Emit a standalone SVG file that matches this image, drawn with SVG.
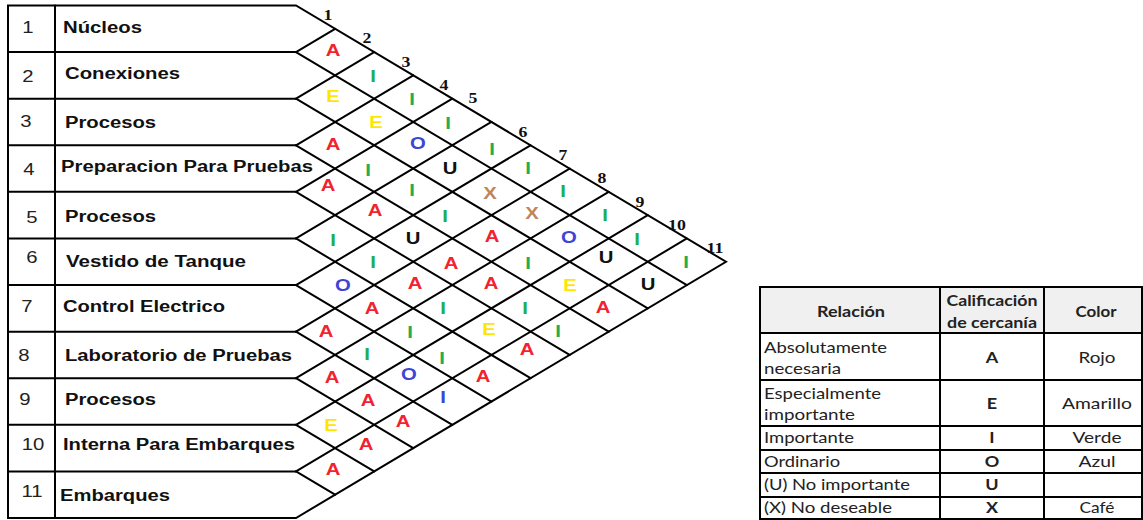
<svg xmlns="http://www.w3.org/2000/svg" width="1143" height="520" viewBox="0 0 1143 520">
<style>
.ln{stroke:#000;stroke-width:2;fill:none;stroke-linecap:round}
.lg{stroke:#000;stroke-width:2;fill:none}
.lab{font-family:"Liberation Sans",Arial,sans-serif;font-weight:bold;font-size:16px;fill:#111}
.num{font-family:"Liberation Sans",Arial,sans-serif;font-size:16px;fill:#222;text-anchor:middle}
.col{font-family:"Liberation Serif","Times New Roman",serif;font-weight:bold;font-size:14px;fill:#111;text-anchor:middle}
.r{font-family:"Liberation Sans",Arial,sans-serif;font-weight:bold;font-size:16px;text-anchor:middle}
.R{fill:#f2232e}.Y{fill:#ffe600}.G{fill:#22ad55}.B{fill:#3d45d6}.K{fill:#111}.Br{fill:#c0855a}
.lt{font-family:Lato,"Open Sans",sans-serif;font-size:15px;fill:#222}
.lb{font-family:Lato,"Open Sans",sans-serif;font-size:15px;fill:#222;font-weight:bold}
.c{text-anchor:middle}
</style>

<g id="connectors">
  <!-- table frame -->
  <path class="ln" d="M8 5.5H296L726 261.75L296 518H8Z"/>
  <path class="ln" d="M55 5.5V518"/>
  <path class="ln" d="M8 52.09H296M8 98.68H296M8 145.27H296M8 191.86H296M8 238.45H296M8 285.04H296M8 331.63H296M8 378.22H296M8 424.81H296M8 471.4H296"/>
  <!-- up-right diagonals -->
  <path class="ln" d="M296 52.09L335.09 28.8M296 98.68L374.18 52.09M296 145.27L413.27 75.39M296 191.86L452.36 98.68M296 238.45L491.45 121.98M296 285.04L530.54 145.27M296 331.63L569.63 168.57M296 378.22L608.72 191.86M296 424.81L647.81 215.16M296 471.4L686.9 238.45"/>
  <!-- down-right diagonals -->
  <path class="ln" d="M296 52.09L686.9 285.04M296 98.68L647.81 308.34M296 145.27L608.72 331.63M296 191.86L569.63 354.93M296 238.45L530.54 378.22M296 285.04L491.45 401.52M296 331.63L452.36 424.81M296 378.22L413.27 448.11M296 424.81L374.18 471.4M296 471.4L335.09 494.7"/>
</g>

<g id="rows">
  <g id="row-1"><text class="num" transform="translate(28 33) scale(1.27 1)">1</text><text class="lab" x="63" y="33" textLength="79" lengthAdjust="spacingAndGlyphs">Núcleos</text></g>
  <g id="row-2"><text class="num" transform="translate(28 82) scale(1.27 1)">2</text><text class="lab" x="65" y="79" textLength="115" lengthAdjust="spacingAndGlyphs">Conexiones</text></g>
  <g id="row-3"><text class="num" transform="translate(26 127) scale(1.27 1)">3</text><text class="lab" x="65" y="128" textLength="91" lengthAdjust="spacingAndGlyphs">Procesos</text></g>
  <g id="row-4"><text class="num" transform="translate(29 175) scale(1.27 1)">4</text><text class="lab" x="61" y="172" textLength="252" lengthAdjust="spacingAndGlyphs">Preparacion Para Pruebas</text></g>
  <g id="row-5"><text class="num" transform="translate(32 223) scale(1.27 1)">5</text><text class="lab" x="65" y="222" textLength="91" lengthAdjust="spacingAndGlyphs">Procesos</text></g>
  <g id="row-6"><text class="num" transform="translate(32 263) scale(1.27 1)">6</text><text class="lab" x="66" y="267" textLength="180" lengthAdjust="spacingAndGlyphs">Vestido de Tanque</text></g>
  <g id="row-7"><text class="num" transform="translate(27 312) scale(1.27 1)">7</text><text class="lab" x="63" y="312" textLength="162" lengthAdjust="spacingAndGlyphs">Control Electrico</text></g>
  <g id="row-8"><text class="num" transform="translate(24 361) scale(1.27 1)">8</text><text class="lab" x="65" y="361" textLength="227" lengthAdjust="spacingAndGlyphs">Laboratorio de Pruebas</text></g>
  <g id="row-9"><text class="num" transform="translate(25 405) scale(1.27 1)">9</text><text class="lab" x="65" y="405" textLength="91" lengthAdjust="spacingAndGlyphs">Procesos</text></g>
  <g id="row-10"><text class="num" transform="translate(33 450) scale(1.27 1)">10</text><text class="lab" x="63" y="450" textLength="232" lengthAdjust="spacingAndGlyphs">Interna Para Embarques</text></g>
  <g id="row-11"><text class="num" transform="translate(32 497) scale(1.27 1)">11</text><text class="lab" x="60" y="501" textLength="110" lengthAdjust="spacingAndGlyphs">Embarques</text></g>
</g>

<g id="column-numbers">
  <text class="col" transform="translate(328 20) scale(1.27 1)">1</text>
  <text class="col" transform="translate(367 43) scale(1.27 1)">2</text>
  <text class="col" transform="translate(406 67) scale(1.27 1)">3</text>
  <text class="col" transform="translate(444 90) scale(1.27 1)">4</text>
  <text class="col" transform="translate(473 103) scale(1.27 1)">5</text>
  <text class="col" transform="translate(523 137) scale(1.27 1)">6</text>
  <text class="col" transform="translate(563 160) scale(1.27 1)">7</text>
  <text class="col" transform="translate(602 183) scale(1.27 1)">8</text>
  <text class="col" transform="translate(640 207) scale(1.27 1)">9</text>
  <text class="col" transform="translate(677 230) scale(1.27 1)">10</text>
  <text class="col" transform="translate(715 253) scale(1.27 1)">11</text>
</g>

<g id="ratings">
  <text class="r R" transform="translate(333 56) scale(1.27 1)">A</text>
  <text class="r Y" transform="translate(333 102) scale(1.27 1)">E</text>
  <text class="r R" transform="translate(333 150) scale(1.27 1)">A</text>
  <text class="r R" transform="translate(328 191) scale(1.27 1)">A</text>
  <text class="r G" transform="translate(333 246) scale(1.27 1)">I</text>
  <text class="r B" transform="translate(343 291) scale(1.27 1)">O</text>
  <text class="r R" transform="translate(326 337) scale(1.27 1)">A</text>
  <text class="r R" transform="translate(332 383) scale(1.27 1)">A</text>
  <text class="r Y" transform="translate(331 431) scale(1.27 1)">E</text>
  <text class="r R" transform="translate(333 475) scale(1.27 1)">A</text>

  <text class="r G" transform="translate(373 82) scale(1.27 1)">I</text>
  <text class="r Y" transform="translate(376 128) scale(1.27 1)">E</text>
  <text class="r G" transform="translate(368 176) scale(1.27 1)">I</text>
  <text class="r R" transform="translate(375 216) scale(1.27 1)">A</text>
  <text class="r G" transform="translate(373 268) scale(1.27 1)">I</text>
  <text class="r R" transform="translate(372 314) scale(1.27 1)">A</text>
  <text class="r G" transform="translate(367 360) scale(1.27 1)">I</text>
  <text class="r R" transform="translate(368 406) scale(1.27 1)">A</text>
  <text class="r R" transform="translate(366 450) scale(1.27 1)">A</text>

  <text class="r G" transform="translate(412 105) scale(1.27 1)">I</text>
  <text class="r B" transform="translate(418 149) scale(1.27 1)">O</text>
  <text class="r G" transform="translate(412 196) scale(1.27 1)">I</text>
  <text class="r K" transform="translate(413 244) scale(1.27 1)">U</text>
  <text class="r R" transform="translate(415 289) scale(1.27 1)">A</text>
  <text class="r G" transform="translate(410 338) scale(1.27 1)">I</text>
  <text class="r B" transform="translate(409 380) scale(1.27 1)">O</text>
  <text class="r R" transform="translate(403 427) scale(1.27 1)">A</text>

  <text class="r G" transform="translate(448 129) scale(1.27 1)">I</text>
  <text class="r K" transform="translate(450 174) scale(1.27 1)">U</text>
  <text class="r G" transform="translate(445 222) scale(1.27 1)">I</text>
  <text class="r R" transform="translate(451 269) scale(1.27 1)">A</text>
  <text class="r G" transform="translate(443 314) scale(1.27 1)">I</text>
  <text class="r G" transform="translate(442 364) scale(1.27 1)">I</text>
  <text class="r B" transform="translate(443 403) scale(1.27 1)">I</text>

  <text class="r G" transform="translate(492 155) scale(1.27 1)">I</text>
  <text class="r Br" transform="translate(490 199) scale(1.27 1)">X</text>
  <text class="r R" transform="translate(492 242) scale(1.27 1)">A</text>
  <text class="r R" transform="translate(491 289) scale(1.27 1)">A</text>
  <text class="r Y" transform="translate(489 335) scale(1.27 1)">E</text>
  <text class="r R" transform="translate(483 382) scale(1.27 1)">A</text>

  <text class="r G" transform="translate(528 174) scale(1.27 1)">I</text>
  <text class="r Br" transform="translate(532 219) scale(1.27 1)">X</text>
  <text class="r G" transform="translate(528 269) scale(1.27 1)">I</text>
  <text class="r G" transform="translate(525 314) scale(1.27 1)">I</text>
  <text class="r R" transform="translate(527 355) scale(1.27 1)">A</text>

  <text class="r G" transform="translate(563 197) scale(1.27 1)">I</text>
  <text class="r B" transform="translate(569 243) scale(1.27 1)">O</text>
  <text class="r Y" transform="translate(570 291) scale(1.27 1)">E</text>
  <text class="r G" transform="translate(558 337) scale(1.27 1)">I</text>

  <text class="r G" transform="translate(605 221) scale(1.27 1)">I</text>
  <text class="r K" transform="translate(606 263) scale(1.27 1)">U</text>
  <text class="r R" transform="translate(603 313) scale(1.27 1)">A</text>

  <text class="r G" transform="translate(637 245) scale(1.27 1)">I</text>
  <text class="r K" transform="translate(648 290) scale(1.27 1)">U</text>

  <text class="r G" transform="translate(686 268) scale(1.27 1)">I</text>
</g>

<g id="legend">
  <rect x="760" y="287" width="382" height="46" fill="#f0f0f0"/>
  <path class="lg" d="M760 287H1142V519H760Z"/>
  <path class="lg" d="M940 287V519M1044 287V519"/>
  <path class="lg" d="M760 333H1142M760 380H1142M760 426H1142M760 450H1142M760 473H1142M760 497H1142"/>
  <text class="lb c" x="851" y="317" textLength="68" lengthAdjust="spacingAndGlyphs">Relación</text>
  <text class="lb c" x="992" y="306" textLength="91" lengthAdjust="spacingAndGlyphs">Calificación</text>
  <text class="lb c" x="992" y="328" textLength="90" lengthAdjust="spacingAndGlyphs">de cercanía</text>
  <text class="lb c" x="1096" y="317" textLength="41" lengthAdjust="spacingAndGlyphs">Color</text>

  <text class="lt" x="764" y="353" textLength="123" lengthAdjust="spacingAndGlyphs">Absolutamente</text>
  <text class="lt" x="764" y="374" textLength="77" lengthAdjust="spacingAndGlyphs">necesaria</text>
  <text class="lt" x="764" y="399" textLength="117" lengthAdjust="spacingAndGlyphs">Especialmente</text>
  <text class="lt" x="764" y="420" textLength="91" lengthAdjust="spacingAndGlyphs">importante</text>
  <text class="lt" x="764" y="443" textLength="90" lengthAdjust="spacingAndGlyphs">Importante</text>
  <text class="lt" x="764" y="467" textLength="76" lengthAdjust="spacingAndGlyphs">Ordinario</text>
  <text class="lt" x="764" y="490" textLength="146" lengthAdjust="spacingAndGlyphs">(U) No importante</text>
  <text class="lt" x="764" y="513" textLength="128" lengthAdjust="spacingAndGlyphs">(X) No deseable</text>

  <text class="lb c" transform="translate(992 363) scale(1.2 1)">A</text>
  <text class="lb c" transform="translate(992 409) scale(1.2 1)">E</text>
  <text class="lb c" transform="translate(992 443) scale(1.2 1)">I</text>
  <text class="lb c" transform="translate(992 467) scale(1.2 1)">O</text>
  <text class="lb c" transform="translate(992 490) scale(1.2 1)">U</text>
  <text class="lb c" transform="translate(992 513) scale(1.2 1)">X</text>

  <text class="lt c" x="1097" y="363" textLength="37" lengthAdjust="spacingAndGlyphs">Rojo</text>
  <text class="lt c" x="1097" y="409" textLength="70" lengthAdjust="spacingAndGlyphs">Amarillo</text>
  <text class="lt c" x="1097" y="443" textLength="49" lengthAdjust="spacingAndGlyphs">Verde</text>
  <text class="lt c" x="1097" y="467" textLength="37" lengthAdjust="spacingAndGlyphs">Azul</text>
  <text class="lt c" x="1097" y="513" textLength="35" lengthAdjust="spacingAndGlyphs">Café</text>
</g>
</svg>
